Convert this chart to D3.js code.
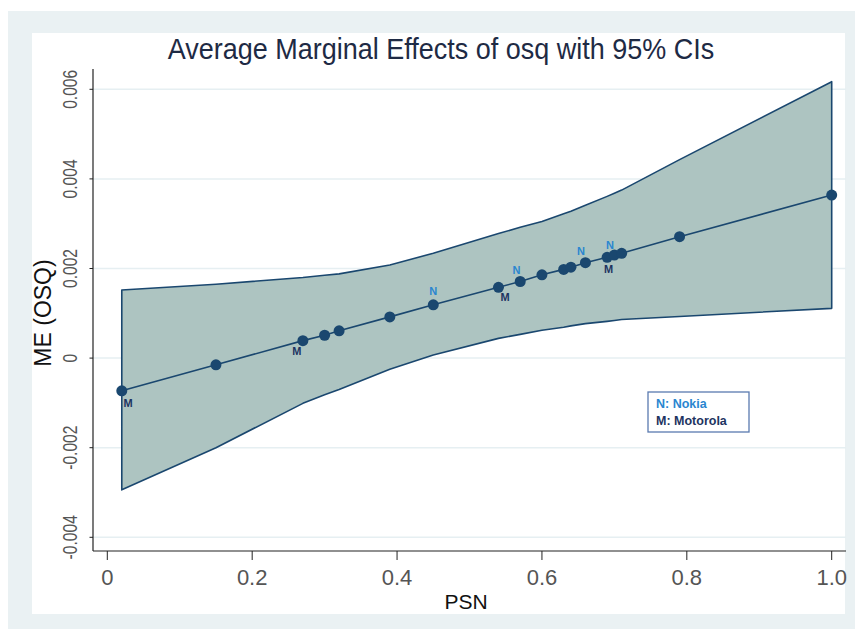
<!DOCTYPE html>
<html>
<head>
<meta charset="utf-8">
<script src="https://d3js.org/d3.v7.min.js"></script>
<style>
html, body { margin: 0; padding: 0; background: #fff; }
svg { display: block; }
.ytick text { font-family: "Liberation Sans", Arial, sans-serif; fill: #555; }
.xtick text { font-family: "Liberation Sans", Arial, sans-serif; fill: #555; }
.ptlabel { font-family: "Liberation Sans", Arial, sans-serif; font-weight: bold; font-size: 11px; }
</style>
</head>
<body>
<svg width="855" height="629"></svg>
<script>
// values
var psn = [0.02, 0.15, 0.27, 0.30, 0.32, 0.39, 0.45, 0.54, 0.57, 0.60, 0.63, 0.64, 0.66, 0.69, 0.70, 0.71, 0.79, 1.00];
var me = [-0.00073, -0.00015, 0.00039, 0.00051, 0.00061, 0.00092, 0.00119, 0.00158, 0.00171, 0.00186,
          0.00198, 0.00203, 0.00213, 0.00225, 0.00230, 0.00234, 0.00271, 0.00364];
var ciUpper = [0.00152, 0.00165, 0.00180, 0.00185, 0.00188, 0.00208, 0.00234, 0.00278, 0.00292, 0.00305,
               0.00322, 0.00328, 0.00341, 0.00361, 0.00368, 0.00375, 0.00443, 0.00617];
var ciLower = [-0.00294, -0.00200, -0.00101, -0.00082, -0.00070, -0.00025, 0.00007, 0.00044, 0.00053, 0.00062,
               0.00069, 0.00072, 0.00077, 0.00082, 0.00084, 0.00086, 0.00093, 0.00111];

// firm labels next to the points
var labelText = ["M", "M", "N", "M", "N", "N", "N", "M"];
var labelPsn = [0.0286, 0.2615, 0.450, 0.549, 0.565, 0.654, 0.694, 0.692];
var labelMe = [-0.00100, 0.000165, 0.00150, 0.00136, 0.00197, 0.00240, 0.00252, 0.00200];

var legendText = ["N: Nokia", "M: Motorola"];

var xTicks = [0, 0.2, 0.4, 0.6, 0.8, 1.0];
var xTickLabels = ["0", "0.2", "0.4", "0.6", "0.8", "1.0"];
var yTicks = [-0.004, -0.002, 0, 0.002, 0.004, 0.006];
var yTickLabels = ["-0.004", "-0.002", "0", "0.002", "0.004", "0.006"];

var navy = "#1a476f",
    nColor = "#2a86d0",
    mColor = "#1d3461";

var svg = d3.select("svg");

// backgrounds
svg.append("rect").attr("x", 8).attr("y", 11).attr("width", 847).attr("height", 618).attr("fill", "#eaf1f3");
svg.append("rect").attr("x", 32).attr("y", 33).attr("width", 813).attr("height", 581).attr("fill", "#fff");

var x = d3.scaleLinear().domain([0, 1]).range([107.3, 831.7]);
var y = d3.scaleLinear().domain([-0.004, 0.006]).range([537.3, 89.3]);

var axLeft = 93, axRight = 846, axTop = 69, axBottom = 551;

// grid lines
svg.append("g").selectAll("line")
    .data(yTicks)
  .enter().append("line")
    .attr("x1", axLeft).attr("x2", axRight)
    .attr("y1", function(d) { return y(d); })
    .attr("y2", function(d) { return y(d); })
    .attr("stroke", "#e6eff2")
    .attr("stroke-width", 1.5);

// confidence band
var rows = psn.map(function(p, i) { return {p: p, m: me[i], lo: ciLower[i], hi: ciUpper[i]}; });

var band = d3.area()
    .x(function(d) { return x(d.p); })
    .y0(function(d) { return y(d.lo); })
    .y1(function(d) { return y(d.hi); });

svg.append("path")
    .datum(rows)
    .attr("d", band)
    .attr("fill", "#adc4c1")
    .attr("stroke", navy)
    .attr("stroke-width", 1.6)
    .attr("stroke-linejoin", "round");

var line = d3.line()
    .x(function(d) { return x(d.p); })
    .y(function(d) { return y(d.m); });

svg.append("path")
    .datum(rows)
    .attr("d", line)
    .attr("fill", "none")
    .attr("stroke", navy)
    .attr("stroke-width", 1.6);

svg.append("g").selectAll("circle")
    .data(rows)
  .enter().append("circle")
    .attr("cx", function(d) { return x(d.p); })
    .attr("cy", function(d) { return y(d.m); })
    .attr("r", 5.5)
    .attr("fill", navy);

svg.append("g").selectAll("text")
    .data(labelText)
  .enter().append("text")
    .attr("class", "ptlabel")
    .attr("x", function(d, i) { return x(labelPsn[i]); })
    .attr("y", function(d, i) { return y(labelMe[i]); })
    .attr("text-anchor", "middle")
    .attr("dominant-baseline", "central")
    .attr("fill", function(d) { return d == "N" ? nColor : mColor; })
    .text(function(d) { return d; });

// axes
svg.append("line").attr("x1", axLeft).attr("x2", axLeft).attr("y1", axTop).attr("y2", axBottom)
    .attr("stroke", "#222").attr("stroke-width", 1.2);
svg.append("line").attr("x1", axLeft).attr("x2", axRight).attr("y1", axBottom).attr("y2", axBottom)
    .attr("stroke", "#222").attr("stroke-width", 1.2);

var yt = svg.append("g").selectAll("g")
    .data(yTicks)
  .enter().append("g")
    .attr("class", "ytick")
    .attr("transform", function(d) { return "translate(0," + y(d) + ")"; });
yt.append("line").attr("x1", axLeft - 3.5).attr("x2", axLeft).attr("stroke", "#222");
yt.append("text")
    .attr("transform", "translate(77,0) rotate(-90) scale(0.78,1)")
    .attr("text-anchor", "middle")
    .style("font-size", "20px")
    .text(function(d, i) { return yTickLabels[i]; });

var xt = svg.append("g").selectAll("g")
    .data(xTicks)
  .enter().append("g")
    .attr("class", "xtick")
    .attr("transform", function(d) { return "translate(" + x(d) + "," + axBottom + ")"; });
xt.append("line").attr("y1", 0).attr("y2", 9).attr("stroke", "#222");
xt.append("text")
    .attr("y", 34)
    .attr("text-anchor", "middle")
    .style("font-size", "22px")
    .text(function(d, i) { return xTickLabels[i]; });

// titles
svg.append("text")
    .attr("transform", "translate(441,59) scale(0.9,1)")
    .attr("text-anchor", "middle")
    .style("font-family", "'Liberation Sans', Arial, sans-serif")
    .style("font-size", "30px")
    .attr("fill", "#1e2a44")
    .text("Average Marginal Effects of osq with 95% CIs");

svg.append("text")
    .attr("x", 466).attr("y", 609)
    .attr("text-anchor", "middle")
    .style("font-family", "'Liberation Sans', Arial, sans-serif")
    .style("font-size", "21px")
    .attr("fill", "#111")
    .text("PSN");

svg.append("text")
    .attr("transform", "translate(51,313) rotate(-90)")
    .attr("text-anchor", "middle")
    .style("font-family", "'Liberation Sans', Arial, sans-serif")
    .style("font-size", "23px")
    .attr("fill", "#111")
    .text("ME (OSQ)");

// legend
var legend = svg.append("g").attr("transform", "translate(648,392)");
legend.append("rect")
    .attr("width", 101).attr("height", 40)
    .attr("fill", "#fff")
    .attr("stroke", "#5a7ab0")
    .attr("stroke-width", 1.3);
legend.selectAll("text")
    .data(legendText)
  .enter().append("text")
    .attr("x", 8)
    .attr("y", function(d, i) { return 15.5 + i * 17.5; })
    .style("font-family", "'Liberation Sans', Arial, sans-serif")
    .style("font-weight", "bold")
    .style("font-size", "12.5px")
    .attr("fill", function(d, i) { return i == 0 ? nColor : mColor; })
    .text(function(d) { return d; });
</script>
</body>
</html>
